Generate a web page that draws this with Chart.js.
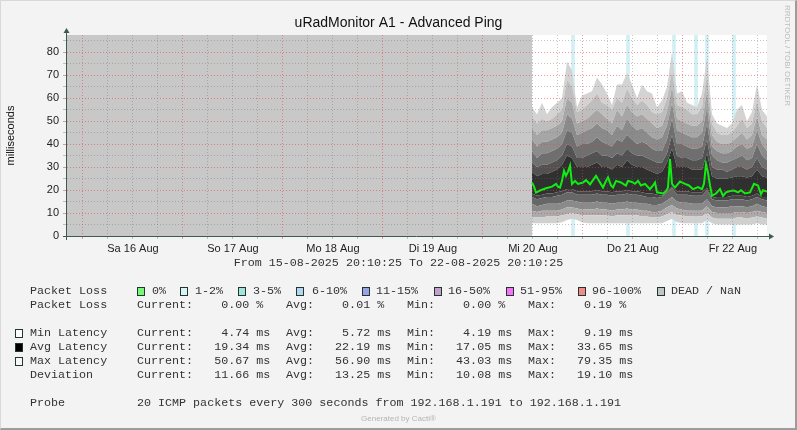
<!DOCTYPE html>
<html>
<head>
<meta charset="utf-8">
<script src="https://cdn.jsdelivr.net/npm/chart.js@4.4.1/dist/chart.umd.min.js"></script>
<style>
  body { margin: 0; background: #fff; }
  #wrap { position: relative; width: 797px; height: 430px; background: #f3f3f3; overflow: hidden; }
  #wrap canvas { position: absolute; left: 0; top: 0; }
  #frame { position: absolute; left: 0; top: 0; width: 797px; height: 430px; box-sizing: border-box;
           border-top: 1px solid #d8d8d8; border-left: 1px solid #d8d8d8;
           border-right: 2px solid #9c9c9c; border-bottom: 2px solid #9c9c9c; pointer-events: none; }
  .mono { position: absolute; font-family: "Liberation Mono", monospace; font-size: 11.7px;
          line-height: 14px; color: #333; white-space: pre; }
  .box { position: absolute; width: 8px; height: 9px; box-sizing: border-box; border: 1px solid #1f382f; }
  #vert { position: absolute; left: 782px; top: 5px; writing-mode: vertical-rl; font: 8px "Liberation Sans", Arial, sans-serif;
          line-height: 10px; color: #bdbdbd; }
  #cacti { position: absolute; left: 0; width: 797px; top: 413px; text-align: center;
           font: 8px "Liberation Sans", Arial, sans-serif; line-height: 12px; color: #b4b4b4; }
</style>
</head>
<body>
<div id="wrap">
  <canvas id="ping" width="797" height="430"></canvas>
  <div id="vert">RRDTOOL / TOBI OETIKER</div>
  <div id="legend"></div>
  <div id="cacti">Generated by Cacti®</div>
  <div id="frame"></div>
</div>
<script>
// hours since 15-08-2025 20:10:25
const dayLabels = ['Sa 16 Aug', 'So 17 Aug', 'Mo 18 Aug', 'Di 19 Aug', 'Mi 20 Aug', 'Do 21 Aug', 'Fr 22 Aug'];
const firstMidnight = 3.8264; // 16 Aug 00:00
const deadSpan = [0, 111.6];   // no data before this

// packet loss 1-2% slots
const lossTimes = [121.44, 134.64, 145.68, 150.96, 153.6, 160.08];

// smoke: sorted ping bands, bottom to top
const bandTimes = [111.6, 112.8, 114.0, 115.2, 116.4, 117.6, 118.8, 120.0, 121.2, 122.4, 123.6, 124.8,
  126.0, 127.2, 128.4, 129.6, 130.8, 132.0, 133.2, 134.4, 135.6, 136.8, 138.0, 139.2, 140.4, 141.6,
  142.8, 144.0, 145.2, 146.4, 147.6, 148.8, 150.0, 151.2, 152.4, 153.6, 154.8, 156.0, 157.2, 158.4,
  159.6, 160.8, 162.0, 163.2, 164.4, 165.6, 166.8, 168.0];
const smokeMin = [5.5, 5.5, 5.5, 5.5, 5.5, 5.5, 6, 7, 7.5, 7, 6, 5.5, 5.5, 5.5, 5.5, 5.5, 5.5, 5.5, 5.5, 5.5,
  5.5, 5.5, 5.5, 5.5, 5.5, 5.5, 5.5, 6.5, 7.5, 6, 5.5, 5.5, 5.5, 5.5, 5.5, 7, 5.5, 5, 5, 5, 5, 5, 5, 5, 5, 5.5, 5, 5];
const smoke1 = [8, 8, 8, 8.5, 8.5, 8.5, 9, 9.5, 10, 9.5, 9, 9, 9, 9, 9, 9, 8.5, 9, 9, 9,
  9, 9, 8.5, 8.5, 8, 8, 8.5, 9.5, 10.5, 9, 9, 8.5, 8.5, 8.5, 8.5, 10, 8, 7.5, 7.5, 7.5, 7.5, 8, 8, 7.5, 8, 8.5, 8, 7.5];
const smoke2 = [11, 10.5, 11, 11, 11, 11, 11.5, 12.5, 12.5, 12, 11.5, 11.5, 11.5, 12, 11.5, 11.5, 11, 11.5, 11.5, 12,
  11.5, 11.5, 11, 11, 10.5, 10.5, 11, 12.5, 13.5, 12, 11.5, 11, 11, 11, 11, 13, 10.5, 10, 10, 10, 10, 10.5, 10.5, 10, 10.5, 11, 10.5, 10];
const smoke3 = [14, 13, 13.5, 14, 14, 14, 14.5, 15.5, 15.5, 15, 14.5, 14.5, 14.5, 15, 14.5, 14.5, 14, 14.5, 14.5, 15,
  14.5, 14.5, 14, 14, 13.5, 13.5, 14, 15.5, 17, 15, 14.5, 14.5, 14, 14, 14, 16, 13, 12.5, 12.5, 12.5, 13, 13, 13, 12.5, 13, 14, 13, 12.5];
const smoke4 = [17, 16, 16.5, 17, 17, 17.5, 18, 19, 19, 18, 18, 18, 18, 18.5, 18, 18, 17.5, 18, 18, 18.5,
  18, 18, 17.5, 17, 17, 16.5, 17, 19, 21, 18, 18, 18, 17.5, 17.5, 17.5, 20, 16, 15.5, 15.5, 15.5, 16, 16, 16, 15.5, 16, 17, 16, 15.5];
const smoke5 = [18.5, 17.5, 18, 18.5, 18.5, 19, 19.5, 20.5, 20.5, 19.5, 19.5, 19.5, 19.5, 20, 19.5, 19.5, 19, 19.5, 19.5, 20,
  19.5, 19.5, 19, 18.5, 18.5, 18, 17.5, 19.5, 21.5, 19.5, 19.5, 19.5, 19, 19, 19, 21, 16.5, 17, 17, 17, 17.5, 17.5, 17.5, 17, 17.5, 18.5, 17, 17];
const smoke6 = [28, 26, 27, 27, 28, 29, 31, 35, 34, 30, 30, 30, 31, 32, 30, 30, 29, 31, 30, 33,
  31, 30, 30, 29, 28, 27, 28, 32, 38, 30, 30, 30, 29, 29, 29, 36, 26, 25, 25, 25, 25.5, 26, 26, 25.5, 26, 29, 26, 25.5];
const smoke7 = [32, 30, 31, 31, 32, 33, 35, 40, 39, 34, 34, 35, 36, 37, 35, 35, 34, 36, 35, 38,
  36, 35, 35, 34, 33, 32, 32, 36, 44, 35, 34, 34, 33, 33, 34, 42, 30, 29, 29, 28, 29, 30, 30, 29, 30, 34, 30, 29];
const smoke8 = [37, 34, 36, 36, 37, 38, 40, 46, 45, 39, 40, 40, 41, 43, 41, 40, 39, 42, 41, 44,
  42, 40, 41, 40, 38, 37, 37, 42, 51, 40, 40, 39, 38, 38, 39, 49, 35, 33, 32, 32, 33, 34, 35, 33, 34, 40, 35, 33];
const smoke9 = [42, 39, 41, 41, 42, 43, 45, 53, 51, 44, 45, 46, 47, 49, 47, 46, 44, 48, 46, 51,
  48, 46, 47, 45, 43, 42, 43, 48, 58, 46, 45, 44, 43, 43, 45, 56, 39, 37, 36, 36, 37, 39, 40, 38, 39, 46, 40, 37];
const smoke10 = [47, 44, 46, 46, 47, 48, 50, 60, 58, 49, 50, 51, 53, 55, 53, 51, 49, 55, 52, 57,
  54, 52, 53, 51, 49, 47, 48, 54, 65, 51, 50, 49, 48, 48, 50, 63, 44, 41, 40, 40, 41, 43, 45, 42, 44, 52, 44, 42];
const smoke11 = [52, 49, 51, 50, 51, 53, 55, 68, 65, 54, 55, 57, 59, 62, 58, 57, 55, 60, 58, 64,
  60, 57, 59, 57, 54, 53, 54, 60, 72, 57, 56, 55, 53, 53, 56, 70, 49, 45, 44, 44, 45, 48, 51, 47, 49, 59, 50, 47];
const smokeMax = [56, 53, 58, 53, 56, 58, 60, 76, 72, 56, 61, 62, 63, 69, 66, 62, 57, 66, 66, 71,
  66, 60, 66, 63, 62, 56, 59, 65, 80, 62, 63, 58, 57, 56, 62, 78, 53, 49, 48, 47, 49, 55, 57, 50, 54, 66, 55, 52];

// median latency (green line)
const medianTimes = [111.6, 112.08, 112.56, 113.52, 114.96, 116.4, 117.36, 117.84, 118.32, 118.8, 119.28, 119.76,
  120.24, 120.72, 121.2, 121.92, 122.64, 123.84, 124.56, 125.52, 126.96, 127.92, 128.64, 129.36, 129.84,
  130.56, 131.04, 131.76, 132.96, 133.68, 134.16, 134.64, 135.6, 136.32, 137.04, 137.76, 138.72, 139.92,
  140.64, 141.12, 141.6, 143.04, 143.76, 144.24, 144.72, 145.2, 145.92, 147.12, 148.32, 149.28, 150.24,
  151.44, 152.4, 152.88, 153.36, 153.84, 154.32, 154.8, 155.76, 156.72, 157.44, 158.16, 159.12, 160.08,
  161.04, 161.76, 162.72, 163.92, 164.88, 165.84, 166.56, 167.04, 168.0];
const medianLatency = [23.3, 21.5, 18.9, 19.8, 20.8, 21.5, 22.7, 21.5, 21.1, 24.0, 28.4, 26.2,
  28.0, 30.6, 22.6, 24.0, 22.7, 23.3, 24.3, 22.5, 26.2, 23.3, 21.1, 24.0, 25.5,
  22.0, 21.1, 24.0, 23.3, 22.5, 22.0, 24.0, 23.5, 22.7, 24.0, 22.0, 22.7, 20.4,
  22.0, 23.3, 19.0, 18.5, 19.5, 21.1, 33.5, 22.7, 21.1, 23.7, 22.7, 22.0, 20.4,
  21.3, 20.4, 22.7, 31.3, 27.6, 22.0, 17.5, 18.5, 20.4, 17.5, 19.0, 19.6, 19.8,
  19.0, 19.9, 18.5, 19.0, 22.7, 22.0, 18.2, 19.9, 19.3];

const Y_MAX = 87.5;
const smokeLayers = [smokeMin, smoke1, smoke2, smoke3, smoke4, smoke5, smoke6,
  smoke7, smoke8, smoke9, smoke10, smoke11, smokeMax];
const smokeColors = ['#d0d0d0', '#ababab', '#8a8a8a', '#676767', '#454545', '#303030',
  '#525252', '#6f6f6f', '#8b8b8b', '#a6a6a6', '#bebebe', '#d3d3d3'];

const gridHours = [];
for (let k = 0; firstMidnight + 6 * k < 168; k++) gridHours.push(firstMidnight + 6 * k);

const RED = 'rgba(222, 70, 70, 0.55)';
const GRAY = 'rgba(110, 110, 110, 0.4)';

Chart.defaults.font.family = '"Liberation Sans", Arial, sans-serif';

const datasets = [];
datasets.push({
  type: 'bar',
  data: lossTimes.map(t => ({ x: t, y: Y_MAX })),
  backgroundColor: '#d2f0f4',
  barThickness: 3,
  order: 10
});
datasets.push({
  data: deadSpan.map(t => ({ x: t, y: 0 })),
  fill: 'end',
  backgroundColor: '#c8c8c8',
  borderColor: 'transparent',
  borderWidth: 0,
  pointRadius: 0,
  order: 9
});
smokeLayers.forEach((arr, k) => {
  datasets.push({
    data: bandTimes.map((t, i) => ({ x: t, y: arr[i] })),
    fill: k === 0 ? false : '-1',
    backgroundColor: k === 0 ? 'transparent' : smokeColors[k - 1],
    borderColor: 'transparent',
    borderWidth: 0,
    pointRadius: 0,
    order: 5
  });
});
datasets.push({
  data: medianTimes.map((t, i) => ({ x: t, y: medianLatency[i] })),
  borderColor: '#11ee11',
  borderWidth: 2,
  pointRadius: 0,
  fill: false,
  order: 0
});

const plotBg = {
  id: 'plotBg',
  beforeDatasetsDraw(chart) {
    const { ctx, chartArea: a } = chart;
    ctx.save();
    ctx.globalCompositeOperation = 'destination-over';
    ctx.fillStyle = '#ffffff';
    ctx.fillRect(a.left, a.top, a.right - a.left, a.bottom - a.top);
    ctx.restore();
  }
};

const axisArrows = {
  id: 'axisArrows',
  afterDraw(chart) {
    const { ctx, chartArea: a } = chart;
    const x0 = a.left - 0.5, y0 = a.bottom + 0.5;
    ctx.save();
    ctx.strokeStyle = '#3b5a50';
    ctx.fillStyle = '#3b5a50';
    ctx.lineWidth = 1;
    ctx.beginPath();
    ctx.moveTo(x0, a.bottom + 4);
    ctx.lineTo(x0, a.top - 3);
    ctx.moveTo(a.left - 4, y0);
    ctx.lineTo(a.right + 3, y0);
    ctx.stroke();
    ctx.beginPath();
    ctx.moveTo(x0, a.top - 7);
    ctx.lineTo(x0 - 3, a.top - 2);
    ctx.lineTo(x0 + 3, a.top - 2);
    ctx.closePath();
    ctx.fill();
    ctx.beginPath();
    ctx.moveTo(a.right + 7, y0);
    ctx.lineTo(a.right + 2, y0 - 3);
    ctx.lineTo(a.right + 2, y0 + 3);
    ctx.closePath();
    ctx.fill();
    ctx.restore();
  }
};

new Chart(document.getElementById('ping'), {
  type: 'line',
  data: { datasets },
  options: {
    responsive: false,
    animation: false,
    events: [],
    layout: { padding: { left: 0, right: 0, top: 0, bottom: 174 } },
    plugins: {
      legend: { display: false },
      tooltip: { enabled: false },
      title: {
        display: true,
        text: 'uRadMonitor A1 - Advanced Ping',
        color: '#111',
        font: { size: 14, weight: 'normal' },
        padding: { top: 14.6, bottom: 3.6 }
      }
    },
    scales: {
      x: {
        type: 'linear',
        min: 0,
        max: 168,
        offset: false,
        afterFit: s => { s.height = 20; },
        afterBuildTicks: s => { s.ticks = gridHours.map(v => ({ value: v })); },
        grid: { z: 1, offset: false, color: c => (c.index % 4 === 0 ? RED : GRAY), tickLength: 3 },
        border: { display: false, dash: [1, 2] },
        ticks: {
          autoSkip: false,
          maxRotation: 0,
          padding: 3,
          color: '#222',
          font: { size: 11 },
          callback: (v, i) => (i % 4 === 2 ? dayLabels[(i - 2) / 4] : '')
        }
      },
      y: {
        min: 0,
        max: Y_MAX,
        afterFit: s => { s.width = 67; },
        grid: { z: 1, color: c => (c.tick.value % 10 === 0 ? RED : GRAY), tickLength: 4 },
        border: { display: false, dash: [1, 2] },
        ticks: {
          stepSize: 5,
          includeBounds: false,
          autoSkip: false,
          padding: 4,
          color: '#222',
          font: { size: 11 },
          callback: v => (v % 10 === 0 ? v : '')
        },
        title: { display: true, text: 'milliseconds', color: '#111', font: { size: 11 }, padding: { top: 4.4, bottom: 0 } }
      },
      yR: {
        position: 'right',
        display: true,
        afterFit: s => { s.width = 30; },
        grid: { display: false },
        ticks: { display: false },
        border: { display: false }
      }
    }
  },
  plugins: [plotBg, axisArrows]
});

// text legend below the graph
const lossLegend = [
  ['0%', '#78f878', 137, 152], ['1-2%', '#dcf4f1', 180, 195], ['3-5%', '#a4e2dc', 238, 253],
  ['6-10%', '#b8d5ef', 296, 312], ['11-15%', '#98a3e6', 362, 376], ['16-50%', '#c49fcc', 434, 448],
  ['51-95%', '#f474f4', 506, 520], ['96-100%', '#f38a8a', 578, 592], ['DEAD / NaN', '#c4c4c4', 657, 671]
];
const statRows = [
  { y: 304.7, label: 'Packet Loss', box: null,
    cols: ['Current:    0.00 %', 'Avg:    0.01 %', 'Min:    0.00 %', 'Max:    0.19 %'] },
  { y: 332.7, label: 'Min Latency', box: '#ffffff',
    cols: ['Current:    4.74 ms', 'Avg:    5.72 ms', 'Min:    4.19 ms', 'Max:    9.19 ms'] },
  { y: 346.7, label: 'Avg Latency', box: '#000000',
    cols: ['Current:   19.34 ms', 'Avg:   22.19 ms', 'Min:   17.05 ms', 'Max:   33.65 ms'] },
  { y: 360.7, label: 'Max Latency', box: '#f8f8f8',
    cols: ['Current:   50.67 ms', 'Avg:   56.90 ms', 'Min:   43.03 ms', 'Max:   79.35 ms'] },
  { y: 374.7, label: 'Deviation', box: null,
    cols: ['Current:   11.66 ms', 'Avg:   13.25 ms', 'Min:   10.08 ms', 'Max:   19.10 ms'] }
];
const colX = [137, 286, 407, 528];

const legend = document.getElementById('legend');
function addText(txt, x, yc, extra) {
  const d = document.createElement('div');
  d.className = 'mono';
  d.textContent = txt;
  d.style.left = x + 'px';
  d.style.top = (yc - 7) + 'px';
  if (extra) Object.assign(d.style, extra);
  legend.appendChild(d);
}
function addBox(color, x, y) {
  const b = document.createElement('div');
  b.className = 'box';
  b.style.left = x + 'px';
  b.style.top = y + 'px';
  b.style.background = color;
  legend.appendChild(b);
}

addText('From 15-08-2025 20:10:25 To 22-08-2025 20:10:25', 0, 263, { width: '797px', textAlign: 'center' });
addText('Packet Loss', 30, 290.7);
lossLegend.forEach(([name, color, bx, tx]) => {
  addBox(color, bx, 287);
  addText(name, tx, 290.7);
});
statRows.forEach(r => {
  addText(r.label, 30, r.y);
  if (r.box) addBox(r.box, 15, Math.round(r.y - 3.5));
  r.cols.forEach((c, i) => addText(c, colX[i], r.y));
});
addText('Probe', 30, 402.7);
addText('20 ICMP packets every 300 seconds from 192.168.1.191 to 192.168.1.191', 137, 402.7);
</script>
</body>
</html>
